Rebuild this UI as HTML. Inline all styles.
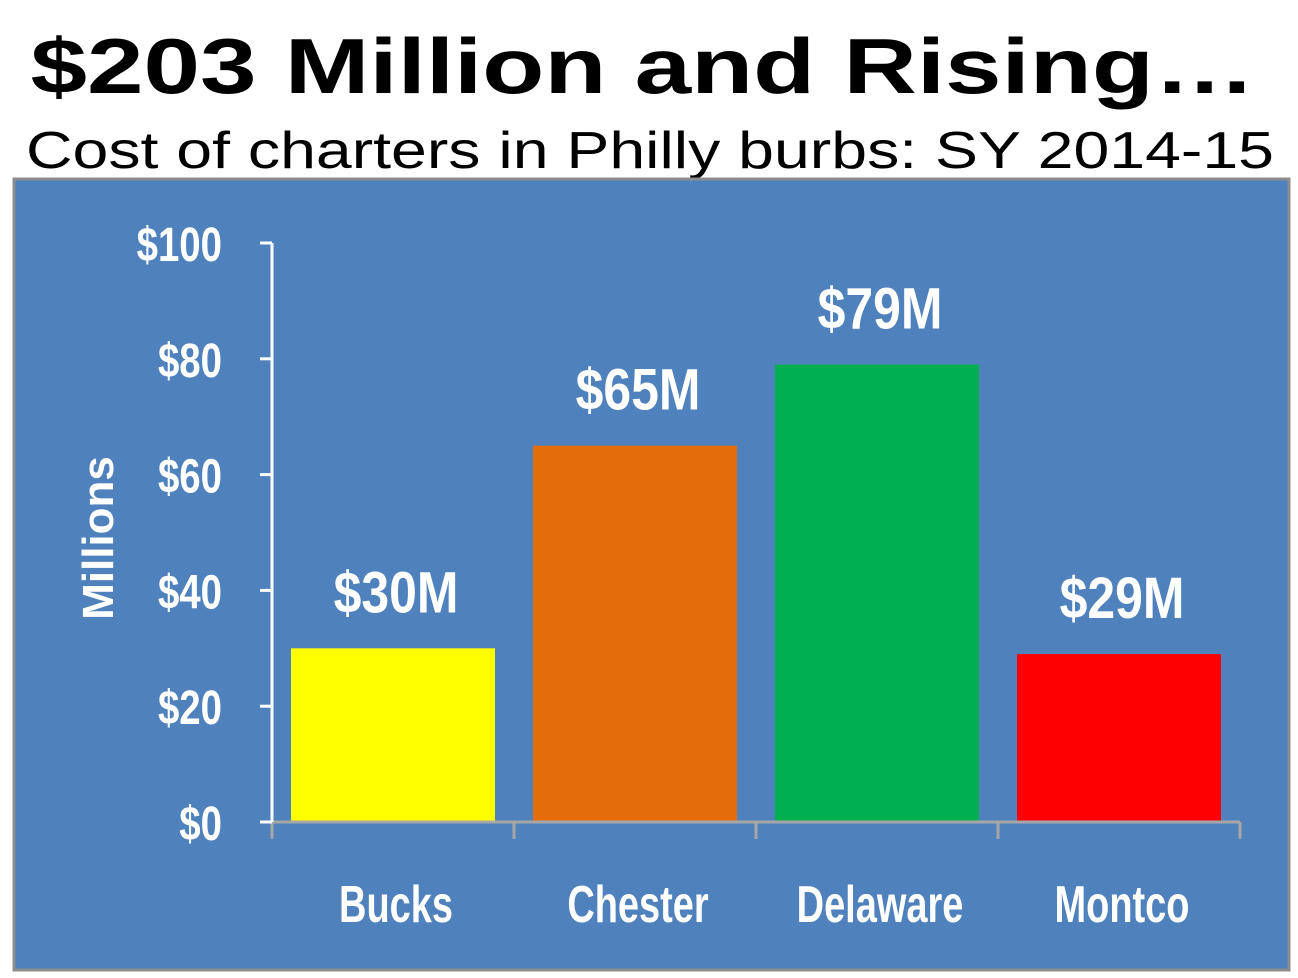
<!DOCTYPE html>
<html><head><meta charset="utf-8">
<style>
html,body{margin:0;padding:0;background:#fff;width:1298px;height:978px;overflow:hidden}
svg{display:block}
.t{font-family:"Liberation Sans",sans-serif}
.n{font-family:"Liberation Sans",sans-serif;font-weight:bold;fill:#fff}
</style></head><body>
<svg width="1298" height="978" viewBox="0 0 1298 978">
<text class="t" x="643" y="93" text-anchor="middle" font-size="78" font-weight="bold" textLength="1225" lengthAdjust="spacingAndGlyphs">$203 Million and Rising…</text>
<text class="t" x="650" y="168" text-anchor="middle" font-size="52" textLength="1248" lengthAdjust="spacingAndGlyphs">Cost of charters in Philly burbs: SY 2014-15</text>
<rect x="14" y="179" width="1275" height="791" fill="#4f81bd" stroke="#8c8c8c" stroke-width="3"/>
<g id="chart"></g>
</svg>
<script>
const categories=["Bucks","Chester","Delaware","Montco"];
const values=[30,65,79,29];
const valueLabels=["$30M","$65M","$79M","$29M"];
const colors=["#ffff00","#e46c0a","#00b050","#ff0000"];
const yTicks=[0,20,40,60,80,100];
const yTickLabels=["$0","$20","$40","$60","$80","$100"];
const NS="http://www.w3.org/2000/svg";
const g=document.getElementById('chart');
const x0=272,x1=1240,y0=822,y1=243,ymax=100;
const bw=(x1-x0)/categories.length;
const y=v=>y0-(v/ymax)*(y0-y1);
const xc=i=>x0+bw*(i+0.5);
function mk(t,a){const e=document.createElementNS(NS,t);for(const k in a)e.setAttribute(k,a[k]);g.appendChild(e);return e;}
function sx(px,py,s){return 'translate('+px+','+py+') scale('+s+',1)';}
categories.forEach((c,i)=>{
  const r=mk('rect',{x:xc(i)-102,y:y(values[i]),width:204,height:y0-y(values[i]),fill:colors[i]});
  
  
  const l=mk('text',{x:0,y:0,transform:sx(xc(i)+3,y(values[i])-36,0.86),'text-anchor':'middle','font-size':58,class:'n'});
  l.textContent=valueLabels[i];
  
  
  const cl=mk('text',{x:0,y:0,transform:sx(xc(i)+3,922,0.73),'text-anchor':'middle','font-size':52,class:'n'});
  cl.textContent=c;
  
  
});
const xa=mk('line',{x1:x0,y1:y0,x2:x1,y2:y0,stroke:'#a6a6a6','stroke-width':3});


for(let i=0;i<=categories.length;i++){
  const tk=mk('line',{x1:x0+bw*i,y1:y0,x2:x0+bw*i,y2:y0+17,stroke:'#a6a6a6','stroke-width':3});
  
  
}
const ya=mk('line',{x1:x0,y1:y1,x2:x0,y2:y0,stroke:'#fff','stroke-width':3});


yTicks.forEach((v,i)=>{
  const tk=mk('line',{x1:x0-12,y1:y(v),x2:x0,y2:y(v),stroke:'#fff','stroke-width':3});
  
  
  const t=mk('text',{x:0,y:0,transform:sx(222,y(v)+18,0.8),'text-anchor':'end','font-size':48,class:'n'});
  t.textContent=yTickLabels[i];
  
  
});
const yt=mk('text',{x:0,y:0,transform:'translate(113,538) rotate(-90)','text-anchor':'middle','font-size':44,class:'t','font-weight':'bold',fill:'#fff'});
yt.textContent='Millions';


</script>
</body></html>
